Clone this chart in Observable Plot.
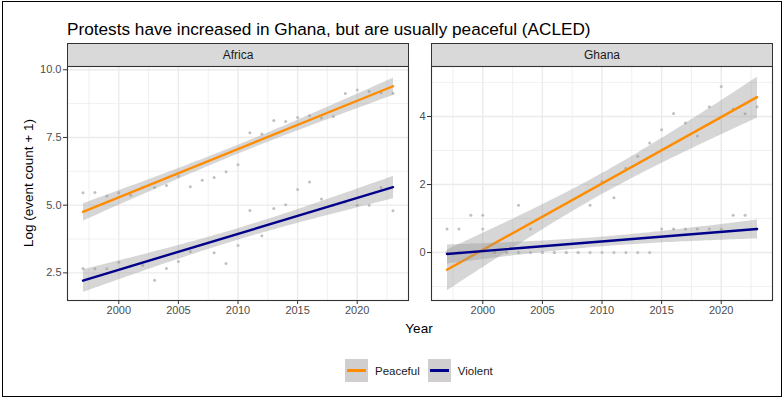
<!DOCTYPE html>
<html>
<head>
<meta charset="utf-8">
<script src="https://cdn.jsdelivr.net/npm/d3@7"></script>
<script src="https://cdn.jsdelivr.net/npm/@observablehq/plot@0.6"></script>
<style>
  body { margin: 0; background: #fff; font-family: "Liberation Sans", Arial, sans-serif; }
  #fig { position: relative; width: 784px; height: 397px; overflow: hidden; background: #fff; }
  .border { position: absolute; left: 2px; top: 1px; width: 778px; height: 394px; border: 1px solid #000; }
  .title { position: absolute; left: 67px; top: 19px; font-size: 17.2px; color: #000; white-space: nowrap; }
  .strip { position: absolute; background: #d9d9d9; border: 1px solid #333; box-sizing: border-box;
           text-align: center; font-size: 12px; color: #1a1a1a; }
  .panel { position: absolute; }
  .ylab { position: absolute; left: 28px; top: 183px; font-size: 13.5px; white-space: nowrap;
          transform: translate(-50%, -50%) rotate(-90deg); }
  .xlab { position: absolute; left: 419px; top: 328px; font-size: 13.5px; transform: translate(-50%, -50%); }
  .legend { position: absolute; top: 359px; height: 23px; display: flex; align-items: center; font-size: 11.5px; color: #1a1a1a; }
  .key { width: 23px; height: 23px; background: #d0cece; position: relative; margin-right: 7px; }
  .key span { position: absolute; left: 2px; right: 2px; top: 10px; height: 2.6px; }
</style>
</head>
<body>
<div id="fig">
  <div class="border"></div>
  <div class="title">Protests have increased in Ghana, but are usually peaceful (ACLED)</div>
  <div class="strip" id="strip0" style="left:67px; top:43px; width:342px; height:24px; line-height:22px;"></div>
  <div class="strip" id="strip1" style="left:431px; top:43px; width:342px; height:24px; line-height:22px;"></div>
  <div class="panel" id="p0" style="left:0px; top:60px;"></div>
  <div class="panel" id="p1" style="left:420px; top:60px;"></div>
  <div class="ylab">Log (event count + 1)</div>
  <div class="xlab">Year</div>
  <div class="legend" id="legend" style="left:345px;"></div>
</div>
<script>
// Annual event counts, log(count + 1), 1997–2023
const years = [1997, 1998, 1999, 2000, 2001, 2002, 2003, 2004, 2005, 2006, 2007, 2008, 2009, 2010,
               2011, 2012, 2013, 2014, 2015, 2016, 2017, 2018, 2019, 2020, 2021, 2022, 2023];

const africaPeaceful = [5.46, 5.47, 5.34, 5.46, 5.37, 5.65, 5.65, 5.73, 6.07, 5.68, 5.92, 6.02, 6.23, 6.49,
                        7.67, 7.63, 8.13, 8.09, 8.24, 8.30, 8.22, 8.27, 9.12, 9.25, 9.20, 9.15, 9.13];
const africaViolent  = [2.66, 2.65, 2.65, 2.89, 2.75, 2.78, 2.23, 2.66, 2.92, 3.29, 3.55, 3.24, 2.85, 3.51,
                        4.80, 3.87, 4.88, 5.02, 5.58, 5.86, 5.23, 5.00, 5.12, 5.00, 5.00, 5.65, 4.79];
const ghanaPeaceful  = [0.69, 0.69, 0, 1.10, 0, 0, 1.39, 0.69, 0, 0, 0, 0, 1.39, 2.08,
                        1.61, 2.48, 2.83, 3.22, 3.61, 4.09, 3.81, 3.43, 4.29, 4.88, 4.22, 4.08, 4.29];
const ghanaViolent   = [0, 0, 1.10, 0.69, 0, 0, 0, 0, 0, 0, 0, 0, 0, 0,
                        0, 0, 0, 0, 0.69, 0.69, 0.69, 0.69, 0.69, 0.69, 1.10, 1.10, 0.69];

const regions = ["Africa", "Ghana"];
const seriesNames = ["Peaceful", "Violent"];
const seriesColors = ["#ff8c00", "#00008b"];

const yearTicks = [2000, 2005, 2010, 2015, 2020];
const yearMinor = [1997.5, 2002.5, 2007.5, 2012.5, 2017.5, 2022.5];
const africaTicks = [2.5, 5.0, 7.5, 10.0];
const africaMinor = [3.75, 6.25, 8.75];
const ghanaTicks = [0, 2, 4];
const ghanaMinor = [-1, 1, 3, 5];

function tidy(peaceful, violent) {
  return [
    ...years.map((year, i) => ({year, value: peaceful[i], series: seriesNames[0]})),
    ...years.map((year, i) => ({year, value: violent[i], series: seriesNames[1]}))
  ];
}

const font = '"Liberation Sans", Arial, sans-serif';

function facet(rows, {yDomain, yTicks, yMinor, yFormat, width, marginLeft, marginRight}) {
  return Plot.plot({
    width, height: 270,
    marginLeft, marginRight, marginTop: 6, marginBottom: 30,
    style: {fontFamily: font, fontSize: "11px", background: "transparent", overflow: "visible"},
    x: {domain: [1995.7, 2024.3], label: null},
    y: {domain: yDomain, label: null},
    color: {domain: seriesNames, range: seriesColors},
    marks: [
      Plot.gridX(yearMinor, {stroke: "#ebebeb", strokeOpacity: 1, strokeWidth: 0.7}),
      Plot.gridY(yMinor, {stroke: "#ebebeb", strokeOpacity: 1, strokeWidth: 0.7}),
      Plot.gridX(yearTicks, {stroke: "#ebebeb", strokeOpacity: 1, strokeWidth: 1.4}),
      Plot.gridY(yTicks, {stroke: "#ebebeb", strokeOpacity: 1, strokeWidth: 1.4}),
      Plot.dot(rows, {x: "year", y: "value", r: 1.5, fill: "#c0c0c0", stroke: null}),
      Plot.linearRegressionY(rows, {
        x: "year", y: "value", stroke: "series", strokeWidth: 2.4,
        fill: "#999999", fillOpacity: 0.4, ci: 0.95
      }),
      Plot.frame({stroke: "#333", strokeWidth: 1.1}),
      Plot.axisX(yearTicks, {tickFormat: "d", tickSize: 4, tickPadding: 2, stroke: "#333", fill: "#4d4d4d", label: null}),
      Plot.axisY(yTicks, {tickFormat: yFormat, tickSize: 4, tickPadding: 2, stroke: "#333", fill: "#4d4d4d", label: null})
    ]
  });
}

document.getElementById("strip0").textContent = regions[0];
document.getElementById("strip1").textContent = regions[1];

document.getElementById("p0").append(facet(tidy(africaPeaceful, africaViolent), {
  yDomain: [1.48, 10.12], yTicks: africaTicks, yMinor: africaMinor,
  yFormat: d => d.toFixed(1), width: 420, marginLeft: 67, marginRight: 12
}));
document.getElementById("p1").append(facet(tidy(ghanaPeaceful, ghanaViolent), {
  yDomain: [-1.41, 5.47], yTicks: ghanaTicks, yMinor: ghanaMinor,
  yFormat: d => String(d), width: 364, marginLeft: 11, marginRight: 12
}));

// Legend: one key per series, ribbon-grey background with the series line
const legend = document.getElementById("legend");
seriesNames.forEach((name, i) => {
  const key = document.createElement("div");
  key.className = "key";
  const bar = document.createElement("span");
  bar.style.background = seriesColors[i];
  key.append(bar);
  const label = document.createElement("div");
  label.textContent = name;
  label.style.marginRight = i === 0 ? "8px" : "0";
  legend.append(key, label);
});
</script>
</body>
</html>
